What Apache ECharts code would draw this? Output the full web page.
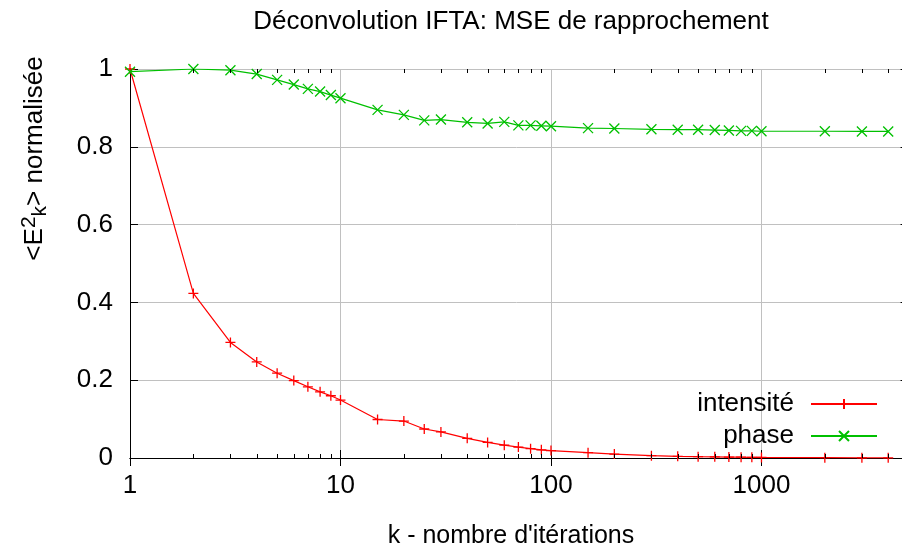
<!DOCTYPE html>
<html>
<head>
<meta charset="utf-8">
<script src="https://cdn.jsdelivr.net/npm/echarts@6/dist/echarts.min.js"></script>
<style>html,body{margin:0;padding:0;background:#fff;}#c{width:902px;height:548px;}</style>
</head>
<body>
<div id="c"></div>
<script>
// ---- data ----
const iterations = [1,2,3,4,5,6,7,8,9,10,15,20,25,30,40,50,60,70,80,90,100,150,200,300,400,500,600,700,800,900,1000,2000,3000,4000];
const intensite = [1.0,0.423,0.297,0.247,0.218,0.199,0.183,0.170,0.160,0.149,0.099,0.095,0.0745,0.067,0.0506,0.040,0.033,0.028,0.024,0.021,0.019,0.0137,0.010,0.006,0.0043,0.0035,0.003,0.0025,0.002,0.0018,0.0015,0.0008,0.0005,0.0004];
const phase = [0.993,1.0,0.997,0.987,0.972,0.960,0.949,0.942,0.933,0.925,0.895,0.882,0.868,0.870,0.863,0.860,0.864,0.855,0.855,0.854,0.853,0.848,0.847,0.845,0.844,0.844,0.843,0.842,0.841,0.841,0.840,0.840,0.8395,0.8395];
const minorTicks = [2,3,4,5,6,7,8,9,20,30,40,50,60,70,80,90,200,300,400,500,600,700,800,900,2000,3000,4000];
const seriesNames = ['intensité','phase'];
const titleText = 'Déconvolution IFTA: MSE de rapprochement';
const xName = "k - nombre d'itérations";

const FONT = '"Liberation Sans", Arial, sans-serif';
const FS = 26;
const chart = echarts.init(document.getElementById('c'), null, {renderer:'canvas'});

const plusPath = 'path://M0,5L10,5M5,0L5,10';
const crossPath = 'path://M0,0L10,10M10,0L0,10';

const axisBase = {
  type:'log', logBase:10, min:1, max:5000,
  axisLine:{show:true, lineStyle:{color:'#000', width:1}},
  axisTick:{show:true, inside:true, length:8, lineStyle:{color:'#000'}},
  splitLine:{show:false},
  axisLabel:{show:false}
};

chart.setOption({
  animation:false,
  backgroundColor:'#fff',
  grid:{left:130, top:69, height:389, width:778.6, containLabel:false, outerBoundsMode:'none'},
  xAxis:[
    Object.assign({}, axisBase, {
      position:'bottom',
      splitLine:{show:true, lineStyle:{color:'#c0c0c0', width:1}},
      axisLabel:{show:true, color:'#000', fontSize:FS, fontFamily:FONT, margin:15, showMaxLabel:false,
        formatter:function(v){ return String(Math.round(v)); }}
    }),
    Object.assign({}, axisBase, {position:'top'})
  ],
  yAxis:[
    {type:'value', min:0, max:1, interval:0.2, position:'left',
     axisLine:{show:true, lineStyle:{color:'#000', width:1}},
     axisTick:{show:true, inside:true, length:8, lineStyle:{color:'#000'}},
     splitLine:{show:true, lineStyle:{color:'#c0c0c0', width:1}},
     axisLabel:{color:'#000', fontSize:FS, fontFamily:FONT, margin:17}},
    {type:'value', min:0, max:1, interval:0.2, position:'right',
     axisLine:{show:true, lineStyle:{color:'#000', width:1}},
     axisTick:{show:true, inside:true, length:8, lineStyle:{color:'#000'}},
     splitLine:{show:false}, axisLabel:{show:false}}
  ],
  legend:{
    data:seriesNames, orient:'vertical', right:19, top:386, align:'right',
    itemWidth:66, itemHeight:12.5, itemGap:6,
    textStyle:{color:'#000', fontSize:FS, fontFamily:FONT, lineHeight:24, padding:[0,12,0,0]},
    selectedMode:false
  },
  series:[
    {name:seriesNames[0], type:'line', data:iterations.map((k,i)=>[k,intensite[i]]),
     symbol:plusPath, symbolSize:10, showAllSymbol:true,
     lineStyle:{color:'#ff0000', width:1.2},
     itemStyle:{color:'#ff0000', borderColor:'#ff0000', borderWidth:1.3},
     emphasis:{disabled:true}, silent:true, z:3},
    {name:seriesNames[1], type:'line', data:iterations.map((k,i)=>[k,phase[i]]),
     symbol:crossPath, symbolSize:10, showAllSymbol:true,
     lineStyle:{color:'#00c000', width:1.2},
     itemStyle:{color:'#00c000', borderColor:'#00c000', borderWidth:1.3},
     emphasis:{disabled:true}, silent:true, z:4},
    {name:'minor', type:'custom', data:minorTicks.map(v=>[v,0]), silent:true, clip:false, z:5,
     encode:{x:0, y:1},
     renderItem:function(params, api){
       const v = api.value(0);
       const b = api.coord([v,0]);
       const t = api.coord([v,1]);
       const x = Math.round(b[0]) + 0.5;
       return {type:'group', children:[
         {type:'line', shape:{x1:x, y1:b[1], x2:x, y2:b[1]-4}, style:{stroke:'#000', lineWidth:1}},
         {type:'line', shape:{x1:x, y1:t[1], x2:x, y2:t[1]+4}, style:{stroke:'#000', lineWidth:1}}
       ]};
     }}
  ],
  graphic:[
    {type:'text', x:511, y:21.5, silent:true,
     style:{text:titleText, fill:'#000', font:FS+'px '+FONT, align:'center', verticalAlign:'middle'}},
    {type:'text', x:511, y:536, silent:true,
     style:{text:xName, fill:'#000', font:'25px '+FONT, align:'center', verticalAlign:'middle'}},
    {type:'text', x:35, y:158.5, rotation:Math.PI/2, silent:true,
     style:{text:'<E{sup|2}{sub|k}> normalisée', fill:'#000', font:FS+'px '+FONT, align:'center', verticalAlign:'middle',
       rich:{
         sup:{fontSize:21, fontFamily:FONT, fill:'#000', verticalAlign:'top', lineHeight:32, padding:[0,0,12,0]},
         sub:{fontSize:21, fontFamily:FONT, fill:'#000', verticalAlign:'bottom', lineHeight:32, padding:[10,0,0,0]}
       }}}
  ]
});
</script>
</body>
</html>
